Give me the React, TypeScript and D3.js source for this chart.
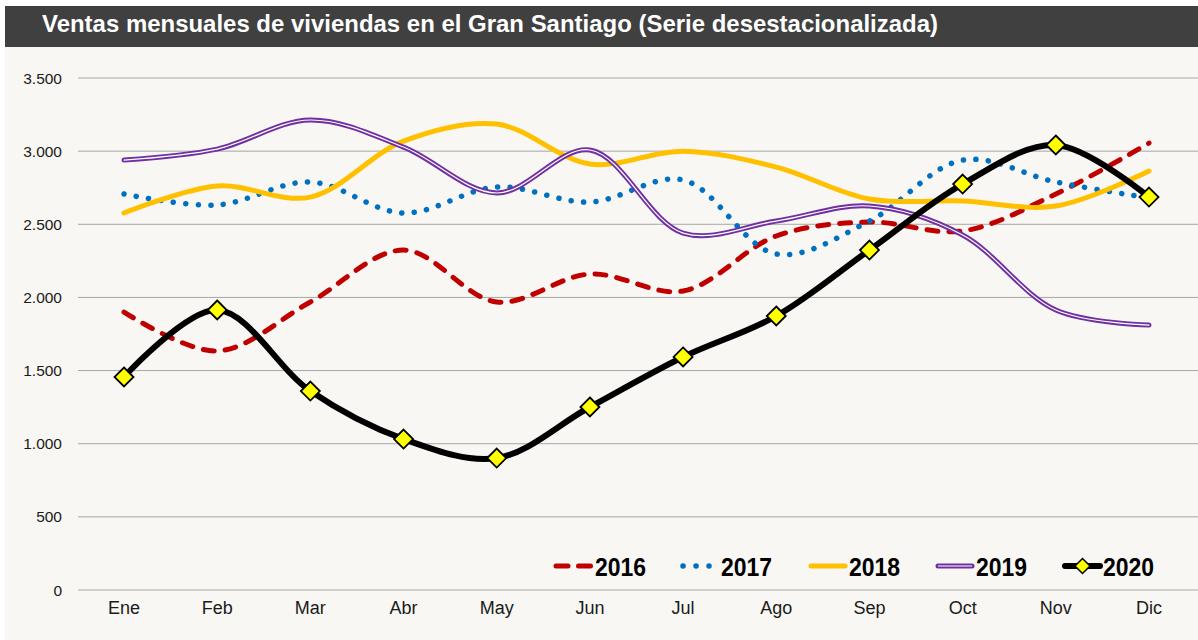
import React, { useEffect, useRef } from "react";
import * as d3 from "d3";

const months = ["Ene", "Feb", "Mar", "Abr", "May", "Jun", "Jul", "Ago", "Sep", "Oct", "Nov", "Dic"];
const yTicks = [0, 500, 1000, 1500, 2000, 2500, 3000, 3500];

const v2016 = [1900, 1634, 1969, 2324, 1969, 2160, 2044, 2420, 2515, 2454, 2707, 3055];
const v2017 = [2707, 2632, 2789, 2577, 2755, 2652, 2803, 2297, 2522, 2939, 2789, 2680];
const v2018 = [2577, 2762, 2686, 3069, 3185, 2912, 3000, 2891, 2673, 2659, 2625, 2864];
const v2019 = [2939, 3014, 3213, 3028, 2714, 3008, 2440, 2522, 2625, 2427, 1914, 1811];
const v2020 = [1456, 1914, 1360, 1032, 902, 1251, 1593, 1873, 2324, 2775, 3042, 2686];

const W = 1198;
const H = 640;

export default function App() {
  const ref = useRef<SVGSVGElement>(null);

  useEffect(() => {
    const svg = d3.select(ref.current);
    svg.selectAll("*").remove();

    // background + title bar
    svg.append("rect").attr("width", W).attr("height", H).attr("fill", "#ffffff");
    svg.append("rect").attr("x", 5).attr("y", 6).attr("width", W - 5).attr("height", H - 6).attr("fill", "#f8f7f3");
    svg.append("rect").attr("x", 5).attr("y", 6).attr("width", W - 5).attr("height", 41).attr("fill", "#404040");
    svg.append("text")
      .attr("x", 42).attr("y", 32)
      .attr("fill", "#ffffff")
      .attr("textLength", 896)
      .attr("lengthAdjust", "spacingAndGlyphs")
      .style("font-family", "'Liberation Sans', Arial, sans-serif")
      .style("font-weight", "bold")
      .style("font-size", "24px")
      .text("Ventas mensuales de viviendas en el Gran Santiago (Serie desestacionalizada)");

    const x = d3.scalePoint().domain(months).range([124, 1149]);
    const y = d3.scaleLinear().domain([0, 3500]).range([590, 78]);

    // grid
    svg.append("g")
      .selectAll("line")
      .data(yTicks)
      .enter().append("line")
      .attr("x1", 78).attr("x2", W)
      .attr("y1", d => y(d)).attr("y2", d => y(d))
      .attr("stroke", "#a6a6a6").attr("stroke-width", 1);

    // y labels
    svg.append("g")
      .selectAll("text")
      .data(yTicks)
      .enter().append("text")
      .attr("x", 62).attr("y", d => y(d) + 5.5)
      .attr("text-anchor", "end")
      .style("font-family", "'Liberation Sans', Arial, sans-serif")
      .style("font-size", "15.5px")
      .attr("fill", "#1a1a1a")
      .text(d => d3.format(",")(d).replace(/,/g, "."));

    // x labels
    svg.append("g")
      .selectAll("text")
      .data(months)
      .enter().append("text")
      .attr("x", d => x(d)!).attr("y", 614)
      .attr("text-anchor", "middle")
      .style("font-family", "'Liberation Sans', Arial, sans-serif")
      .style("font-size", "18px")
      .attr("fill", "#1a1a1a")
      .text(d => d);

    const line = d3.line<number>()
      .x((_, i) => x(months[i])!)
      .y(d => y(d))
      .curve(d3.curveCatmullRom.alpha(0.5));

    const plot = svg.append("g");

    // 2016 dashed red
    plot.append("path").attr("d", line(v2016))
      .attr("fill", "none").attr("stroke", "#c00000").attr("stroke-width", 5)
      .attr("stroke-linecap", "round")
      .attr("stroke-dasharray", "11,11");

    // 2017 dotted blue
    plot.append("path").attr("d", line(v2017))
      .attr("fill", "none").attr("stroke", "#0070c0").attr("stroke-width", 5.5)
      .attr("stroke-linecap", "round").attr("stroke-dasharray", "0.1,12.4");

    // 2018 solid yellow
    plot.append("path").attr("d", line(v2018))
      .attr("fill", "none").attr("stroke", "#ffc000").attr("stroke-width", 5)
      .attr("stroke-linecap", "round");

    // 2019 double purple
    plot.append("path").attr("d", line(v2019))
      .attr("fill", "none").attr("stroke", "#7030a0").attr("stroke-width", 5)
      .attr("stroke-linecap", "round");
    plot.append("path").attr("d", line(v2019))
      .attr("fill", "none").attr("stroke", "#ffffff").attr("stroke-width", 1.2)
      .attr("stroke-linecap", "round");

    // 2020 black with diamonds
    plot.append("path").attr("d", line(v2020))
      .attr("fill", "none").attr("stroke", "#000000").attr("stroke-width", 6)
      .attr("stroke-linecap", "round");

    const diamond = (cx: number, cy: number, r: number) =>
      `M${cx},${cy - r}L${cx + r},${cy}L${cx},${cy + r}L${cx - r},${cy}Z`;

    plot.append("g")
      .selectAll("path")
      .data(v2020)
      .enter().append("path")
      .attr("d", (d, i) => diamond(x(months[i])!, y(d), 9.5))
      .attr("fill", "#ffff00").attr("stroke", "#000").attr("stroke-width", 1.8)
      .attr("stroke-linejoin", "miter");

    // legend
    const legend = svg.append("g");
    const items = [
      { label: "2016", x0: 556, x1: 591, tx: 595, color: "#c00000", kind: "dash" },
      { label: "2017", x0: 683, x1: 709, tx: 721, color: "#0070c0", kind: "dot" },
      { label: "2018", x0: 811, x1: 845, tx: 849, color: "#ffc000", kind: "solid" },
      { label: "2019", x0: 938, x1: 972, tx: 976, color: "#7030a0", kind: "double" },
      { label: "2020", x0: 1065, x1: 1100, tx: 1103, color: "#000000", kind: "marker" },
    ];
    const ly = 566;
    items.forEach(it => {
      const g = legend.append("g");
      const seg = g.append("line")
        .attr("x1", it.x0).attr("x2", it.x1)
        .attr("y1", ly).attr("y2", ly)
        .attr("stroke", it.color).attr("stroke-width", it.kind === "marker" ? 6 : 5)
        .attr("stroke-linecap", "round");
      if (it.kind === "dash") seg.attr("stroke-dasharray", "12,10.5");
      if (it.kind === "dot") seg.attr("stroke-width", 5.5).attr("stroke-dasharray", "0.1,12.9");
      if (it.kind === "double") {
        g.append("line")
          .attr("x1", it.x0).attr("x2", it.x1)
          .attr("y1", ly).attr("y2", ly)
          .attr("stroke", "#fff").attr("stroke-width", 1.2);
      }
      if (it.kind === "marker") {
        g.append("path").attr("d", diamond((it.x0 + it.x1) / 2, ly, 7.5))
          .attr("fill", "#ffff00").attr("stroke", "#000").attr("stroke-width", 1.5);
      }
      g.append("text")
        .attr("x", it.tx).attr("y", ly + 10)
        .attr("textLength", 51)
        .attr("lengthAdjust", "spacingAndGlyphs")
        .style("font-family", "'Liberation Sans', Arial, sans-serif")
        .style("font-weight", "bold")
        .style("font-size", "25px")
        .attr("fill", "#000")
        .text(it.label);
    });
  }, []);

  return (
    <svg
      ref={ref}
      width={W}
      height={H}
      style={{ position: "absolute", left: 0, top: 0, display: "block" }}
    />
  );
}
